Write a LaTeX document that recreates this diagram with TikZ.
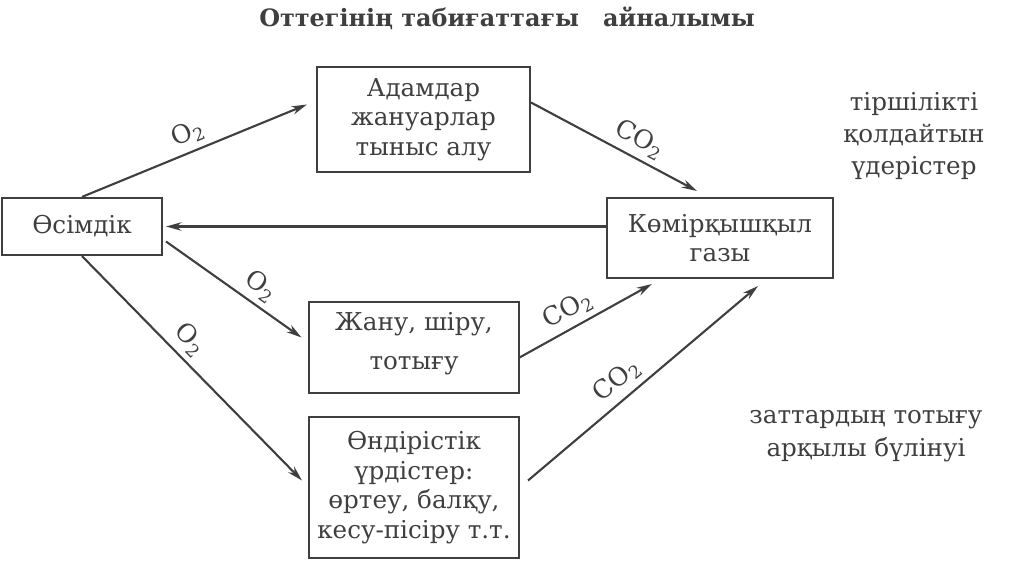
\documentclass[tikz,border=0pt]{standalone}
\usepackage{fontspec}
\setmainfont{DejaVu Serif}
\usetikzlibrary{arrows.meta}
\definecolor{ink}{HTML}{3F3F3F}

\begin{document}
\begin{tikzpicture}[x=0.025cm,y=-0.025cm,
  box/.style={draw=ink, line width=1.4pt, text=ink, align=center, inner sep=0pt,
    font=\fontsize{17.5}{21}\selectfont},
  flow/.style={draw=ink, line width=1.5pt, -{Stealth[length=11pt,width=6pt]}},
  gas/.style={sloped, above=2pt, inner sep=2pt, text=ink, font=\fontsize{18}{20}\selectfont},
  note/.style={text=ink, align=center, font=\fontsize{17.5}{23}\selectfont}]
  \useasboundingbox (0,0) rectangle (1024,574);

  \node[text=ink, font=\bfseries\fontsize{17}{20}\selectfont] (title) at (507,18)
    {Оттегінің табиғаттағы\quad айналымы};

  \node[box, minimum width=4cm,    minimum height=1.43cm]  (plant)    at (82,226.5)  {Өсімдік};
  \node[box, minimum width=5.325cm, minimum height=2.625cm] (people)   at (423.5,119.5) {Адамдар\\жануарлар\\тыныс алу};
  \node[box, minimum width=5.65cm, minimum height=2cm]     (coal)     at (720,238)   {Көмірқышқыл\\газы};
  \node[box, minimum width=5.225cm, minimum height=2.275cm] (burn)    at (414,347.5) {Жану, шіру,\\[7pt]тотығу\\[-12pt]};
  \node[box, minimum width=5.25cm, minimum height=3.525cm] (industry) at (414,487.5) {Өндірістік\\үрдістер:\\өртеу, балқу,\\кесу-пісіру т.т.};

  \node[note] (life) at (914,136) {тіршілікті\\қолдайтын\\үдерістер};
  \node[note] (decay) at (866,436) {заттардың тотығу\\арқылы бүлінуі};

  \draw[flow] (plant.north) -- node[gas, pos=0.5] {O\textsubscript{2}} ([shift={(-9,-15)}]people.west);
  \draw[flow] ([shift={(0,-17)}]people.east) -- node[gas, pos=0.6] {CO\textsubscript{2}} ([shift={(-23,-6)}]coal.north);
  \draw[flow] (coal.west |- plant.east) -- ([shift={(3,0)}]plant.east);
  \draw[flow] ([shift={(3,15)}]plant.east) -- node[gas, pos=0.62] {O\textsubscript{2}} ([shift={(-7,-10)}]burn.west);
  \draw[flow] (plant.south) -- node[gas, pos=0.43] {O\textsubscript{2}} ([shift={(-6,-7)}]industry.west);
  \draw[flow] ([shift={(0,10)}]burn.east) -- node[gas, pos=0.43] {CO\textsubscript{2}} ([shift={(-68,5)}]coal.south);
  \draw[flow] ([shift={(8,-7)}]industry.east) -- node[gas, pos=0.44] {CO\textsubscript{2}} ([shift={(38,7)}]coal.south);
\end{tikzpicture}
\end{document}
